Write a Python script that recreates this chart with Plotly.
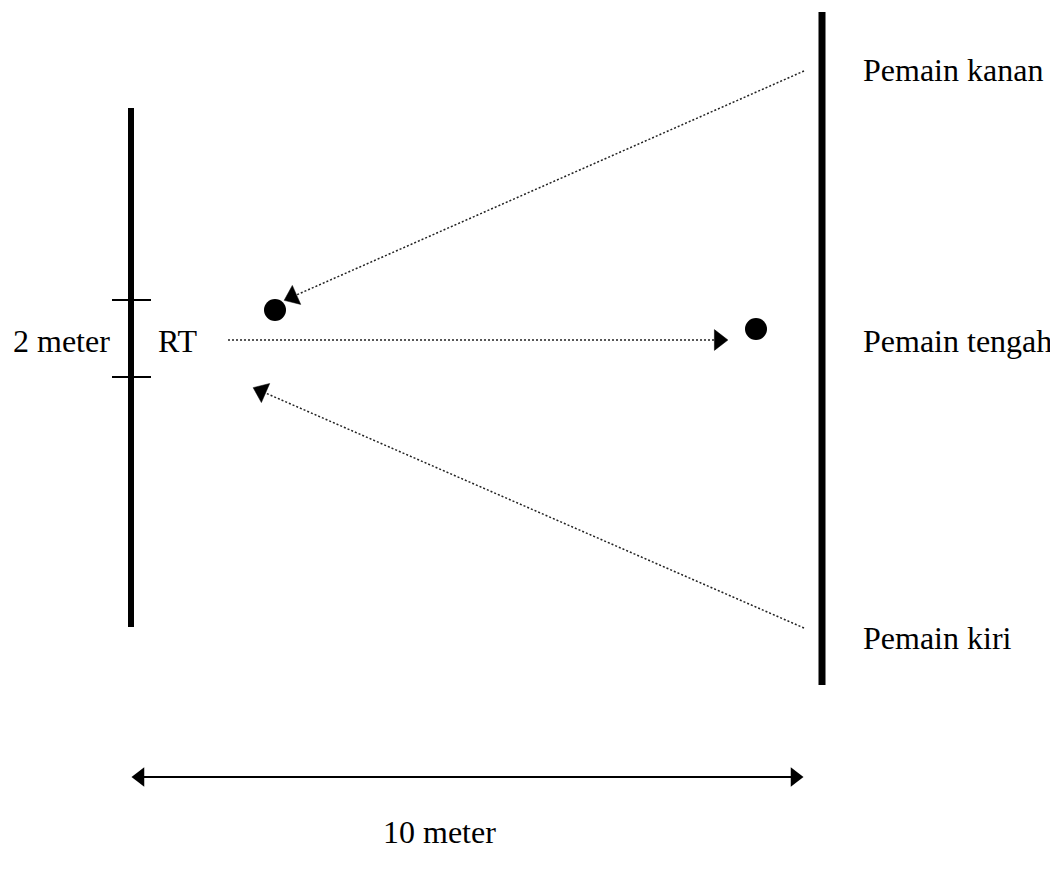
import numpy as np
import plotly.graph_objects as go

# Diagram layout (pixel-like coordinates, y grows downward)
W, H = 1058, 873
PAD = 8  # default body margin of the page

# Goal lines: [x, y_top, y_bottom]
goal_left = [131, 108, 627]
goal_right = [822, 12, 685]

# Width marks of the 2 meter gate on the left line
gate_marks_y = [300, 377]
gate_marks_x = [112, 151]

# Passes: start (player) -> end (arrow tip)
pass_start_x = [804, 228, 804]
pass_start_y = [71, 340, 628]
pass_end_x = [285, 727, 254]
pass_end_y = [300, 340, 388]

# Balls
ball_x = [275, 756]
ball_y = [310, 329]

# Distance arrow (10 meter)
dist_x = [132, 803]
dist_y = 777

# Labels
label_text = ["Pemain kanan", "Pemain tengah", "Pemain kiri", "2 meter", "RT", "10 meter"]
label_x = [861, 861, 861, 11, 156, 439]
label_y = [70, 341, 638, 341, 341, 832]
label_anchor = ["left", "left", "left", "left", "left", "center"]

FONT = "Liberation Serif, Times New Roman, serif"

fig = go.Figure()

# goal lines
for gx, y0, y1, w in [(goal_left[0], goal_left[1], goal_left[2], 6),
                      (goal_right[0], goal_right[1], goal_right[2], 7)]:
    fig.add_trace(go.Scatter(x=[gx, gx], y=[y0, y1], mode="lines",
                             line=dict(color="black", width=w),
                             hoverinfo="skip", showlegend=False))

# gate marks
for my in gate_marks_y:
    fig.add_trace(go.Scatter(x=gate_marks_x, y=[my, my], mode="lines",
                             line=dict(color="black", width=2),
                             hoverinfo="skip", showlegend=False))

# dotted passes with arrowheads
head = 18
for sx, sy, ex, ey in zip(pass_start_x, pass_start_y, pass_end_x, pass_end_y):
    d = np.array([ex - sx, ey - sy], dtype=float)
    d /= np.hypot(*d)
    cx, cy = ex - d[0] * head * 0.45, ey - d[1] * head * 0.45
    fig.add_trace(go.Scatter(x=[sx, cx], y=[sy, cy], mode="lines",
                             line=dict(color="#222222", width=1.5, dash="2px,2px"),
                             hoverinfo="skip", showlegend=False))
    fig.add_trace(go.Scatter(x=[sx, cx], y=[sy, cy], mode="markers",
                             marker=dict(symbol="triangle-up", size=[0, head],
                                         color="#000000", angleref="previous",
                                         opacity=1, line=dict(width=0.5, color="#000000")),
                             hoverinfo="skip", showlegend=False))

# balls
fig.add_trace(go.Scatter(x=ball_x, y=ball_y, mode="markers",
                         marker=dict(color="black", size=22, line=dict(width=0)),
                         hoverinfo="skip", showlegend=False))

# distance arrow
fig.add_trace(go.Scatter(x=[dist_x[0] + 8, dist_x[1] - 8], y=[dist_y, dist_y], mode="lines",
                         line=dict(color="black", width=2),
                         hoverinfo="skip", showlegend=False))
fig.add_trace(go.Scatter(x=[dist_x[0] + 8, dist_x[1] - 8], y=[dist_y, dist_y], mode="markers",
                         marker=dict(symbol=["triangle-left", "triangle-right"], size=17,
                                     color="black", line=dict(width=0)),
                         hoverinfo="skip", showlegend=False))

for t, x, y, a in zip(label_text, label_x, label_y, label_anchor):
    fig.add_annotation(x=x, y=y, text=t, showarrow=False, xanchor=a, yanchor="middle",
                       font=dict(family=FONT, size=32, color="black"))

fig.update_layout(
    width=W - PAD, height=H - 2 * PAD,
    margin=dict(l=0, r=0, t=0, b=0),
    paper_bgcolor="white", plot_bgcolor="white",
    xaxis=dict(range=[PAD, W], visible=False, fixedrange=True),
    yaxis=dict(range=[H - PAD, PAD], visible=False, fixedrange=True),
    showlegend=False,
)

fig.write_html("out.html")
